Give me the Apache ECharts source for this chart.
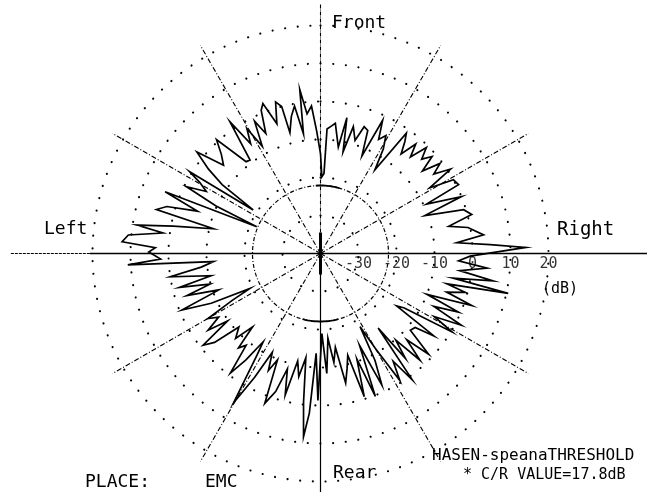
<!DOCTYPE html>
<html>
<head>
<meta charset="utf-8">
<script src="https://cdn.jsdelivr.net/npm/echarts@6/dist/echarts.min.js"></script>
<style>
  html, body { margin: 0; padding: 0; background: #fff; }
  #chart { width: 647px; height: 492px; }
</style>
</head>
<body>
<div id="chart"></div>
<script>
// Bearing of each sample, degrees clockwise from Front
const bearings = [
  0, 1, 2.5, 3, 5, 6.5, 8, 9.5, 11, 12.5, 14.5, 17, 19, 21, 23, 25, 27, 29, 31, 33,
  35.5, 37, 39, 41, 43, 45, 47, 49, 51, 53, 55, 57, 59, 61, 63.5, 65, 68, 70, 73, 75.5,
  78, 80, 83.5, 85.5, 87, 88.3, 89.3, 91, 93, 95, 97, 99, 100.5, 102, 103.5, 105, 107, 109, 111, 113,
  115, 117, 119, 120.8, 123, 124.5, 126, 128, 130.5, 133, 135, 137, 139, 141, 142.3, 144, 146, 148, 150, 151.6,
  153, 155, 157, 159, 161, 163, 165, 167, 169, 171, 173, 175, 177, 179, 181, 182.5, 184, 185.3, 186.5, 188,
  190, 192, 194, 196, 198, 200.4, 202, 204, 206, 208, 210.2, 212, 213, 215, 217, 219, 221, 222.8, 225, 228,
  230, 232, 234, 235.7, 238, 240, 242, 243.7, 245.5, 247.8, 250.3, 252.5, 254.5, 256.5, 258.5, 261.2, 263.5, 265.7, 266.6, 268,
  270.5, 272, 273.4, 275.5, 277.4, 278.8, 280.5, 283, 285, 287, 289, 291.7, 292.8, 294.5, 296.5, 298.5, 300.5, 302, 302.9, 305,
  307, 309.4, 312.3, 315, 317.6, 321, 323, 325.5, 327.5, 329.5, 331.5, 333.5, 335.5, 337.5, 339, 341.4, 343.5, 345.2, 345.8, 348,
  350, 351.9, 352.8, 354.5, 356.5, 358.2, 360
];
// Received level at each bearing, dB
const levels = [
  -13.7, -19.8, -18.9, -7.2, -6.3, -5.5, -8.9, -11.6, -3.6, -12.6, -5.5, -8.9, -4.7, -5.3, -12.1, -1.3, -6.3, -4.5, -7.9, -13.7,
  -1.1, -3.1, -6.3, -1.8, -5.3, -0.6, -3.6, -1.1, -5.5, -0.6, -3.6, 0.8, -6.5, 0.0, 0.6, -9.2, 0.0, -10.8, -0.6, 1.1,
  -5.5, -0.6, 3.2, -4.0, 4.7, 14.0, 7.4, -0.6, -3.6, 4.0, -3.1, 6.0, -4.5, 10.5, -5.8, -0.6, -5.3, 2.1, -10.0, -0.6,
  -7.1, 1.6, -5.8, 0.3, -13.7, -15.7, -3.1, -8.4, -8.9, -1.1, -7.9, -1.6, -9.8, -4.5, -15.2, 1.1, -5.8, -0.6, -11.1, -18.1,
  -8.4, -1.8, -13.7, 0.3, -10.6, -0.6, -12.3, -8.9, -5.3, -15.0, -11.1, -17.6, -8.4, -18.9, -1.3, -13.7, 2.1, 8.4, -0.6, -12.3,
  -7.1, -11.1, -1.6, -8.4, -1.8, 2.1, -9.8, -6.3, -11.1, -3.1, 5.5, -8.4, -12.3, -5.8, -0.6, -8.9, -7.1, -13.7, -8.4, -11.1,
  -3.6, -0.8, -9.8, -4.2, -8.4, -5.8, -13.7, -19.3, -8.4, -0.6, -11.6, -3.1, -9.8, -1.8, -10.6, 0.0, -8.4, -11.8, 10.8, 2.1,
  5.2, 3.5, 12.3, 10.8, 1.8, 8.9, -0.6, -11.1, 4.7, 2.3, -5.8, 4.0, -21.8, -9.8, -0.6, -5.8, -3.1, 0.6, -18.9, -8.4,
  -3.1, 2.1, -5.5, -3.1, 0.6, -8.9, -9.2, 2.1, -5.8, -1.8, -7.9, -1.1, -5.3, 0.8, 2.3, -4.0, 1.6, 0.0, -7.2, -3.1,
  -0.6, -8.2, 3.5, -3.1, -1.1, -7.7, -13.7
];

// Grid: dotted level rings, dash-dot threshold ring, dash-dot bearing spokes
const ringLevels = [-30, -20, -10, 0, 10, 20];
const thresholdLevel = -22.1;
// bearing spans (from, to) where the trace rides the threshold floor
const floorFrom = [-4, 165];
const floorTo = [16, 195];
const spokeBearings = [30, 60, 120, 150, 210, 240, 300, 330];
const spokeReach = 23.2;

// Level scale tick labels (printed along the Right bearing)
const tickValues = [-30, -20, -10, 0, 10, 20];
const tickLabels = ['-30', '-20', '-10', '0', '10', '20'];

// Level range of the plotting frame (centre to the page edge)
const LEVEL_MIN = -40, LEVEL_MAX = 46;
const PX_PER_DB = 3.8;
const MONO = '"DejaVu Sans Mono", "Liberation Mono", monospace';

function arc(level, from, to) {
  const pts = [];
  for (let a = from; a <= to; a += 1) pts.push([level, a]);
  return pts;
}
function ray(bearing, from, to) {
  return [[from, bearing], [to, bearing]];
}
function lineSeries(data, style, z) {
  return {
    type: 'line', coordinateSystem: 'polar', data: data,
    symbol: 'none', smooth: false, clip: false, silent: true,
    animation: false, z: z || 2,
    lineStyle: Object.assign({ color: '#000', width: 1 }, style)
  };
}

const series = [];
ringLevels.forEach(l => series.push(lineSeries(arc(l, 0, 360),
  { width: 2.1, type: [0.1, 12.6], cap: 'round', color: '#000' }, 1)));
series.push(lineSeries(arc(thresholdLevel, 0, 360), { width: 1.2, type: [4, 2, 1, 2] }, 1));
floorFrom.forEach((f, i) => series.push(lineSeries(arc(thresholdLevel, f, floorTo[i]),
  { width: 1.8 }, 4)));
spokeBearings.forEach(b => series.push(lineSeries(ray(b, LEVEL_MIN, spokeReach),
  { width: 1.1, type: [5, 2, 1, 2] }, 1)));

// Right / Left reference line
series.push(lineSeries(ray(90, LEVEL_MIN, LEVEL_MAX), { width: 1.4 }, 1));
series.push(lineSeries(ray(270, LEVEL_MIN, 20.7), { width: 1.4 }, 1));
series.push(lineSeries(ray(270, 20.7, 41.7), { width: 1.2, type: [3, 1] }, 1));
// Front / Rear reference line
series.push(lineSeries(ray(0, LEVEL_MIN, 25.8), { width: 1.1, type: [4, 1, 1, 1] }, 1));
series.push(lineSeries(ray(180, LEVEL_MIN, 22.8), { width: 1.2 }, 1));
// pen start mark at the origin
series.push(lineSeries([[-34.5, 0], [LEVEL_MIN, 0], [-34.5, 180]], { width: 3 }, 3));

// measured pattern
series.push({
  type: 'line', coordinateSystem: 'polar', name: 'pattern',
  data: bearings.map((b, i) => [levels[i], b]),
  symbol: 'none', smooth: false, clip: false, animation: false, z: 5,
  lineStyle: { color: '#000', width: 1.7, join: 'miter' }
});

// level scale labels
series.push({
  type: 'scatter', coordinateSystem: 'polar', animation: false, silent: true,
  symbolSize: 1, itemStyle: { color: 'rgba(0,0,0,0)' },
  data: tickValues.map(v => [v, 90]),
  label: {
    show: true, position: 'bottom', distance: 3,
    formatter: p => tickLabels[p.dataIndex],
    color: '#000', fontFamily: MONO, fontSize: 15
  }, z: 6
});

function txt(text, x, y, size) {
  return {
    type: 'text', x: x, y: y, silent: true, z: 10,
    style: {
      text: text, fill: '#000', font: size + 'px ' + MONO,
      verticalAlign: 'middle'
    }
  };
}

const option = {
  backgroundColor: '#fff',
  animation: false,
  polar: { center: [320.5, 253.5], radius: (LEVEL_MAX - LEVEL_MIN) * PX_PER_DB },
  angleAxis: {
    type: 'value', min: 0, max: 360, startAngle: 90, clockwise: true, show: false
  },
  radiusAxis: { type: 'value', min: LEVEL_MIN, max: LEVEL_MAX, show: false },
  series: series,
  graphic: [
    txt('Front', 332, 23, 18),
    txt('Right', 557, 230, 19),
    txt('Left', 44, 229, 18),
    txt('Rear', 333, 473, 18),
    txt('(dB)', 542, 289, 15),
    txt('PLACE:', 85, 482, 18),
    txt('EMC', 205, 482, 18),
    txt('HASEN-speanaTHRESHOLD', 432, 456, 16),
    txt('* C/R VALUE=17.8dB', 463, 475, 15)
  ]
};

echarts.init(document.getElementById('chart'), null, { renderer: 'canvas' }).setOption(option);
</script>
</body>
</html>
